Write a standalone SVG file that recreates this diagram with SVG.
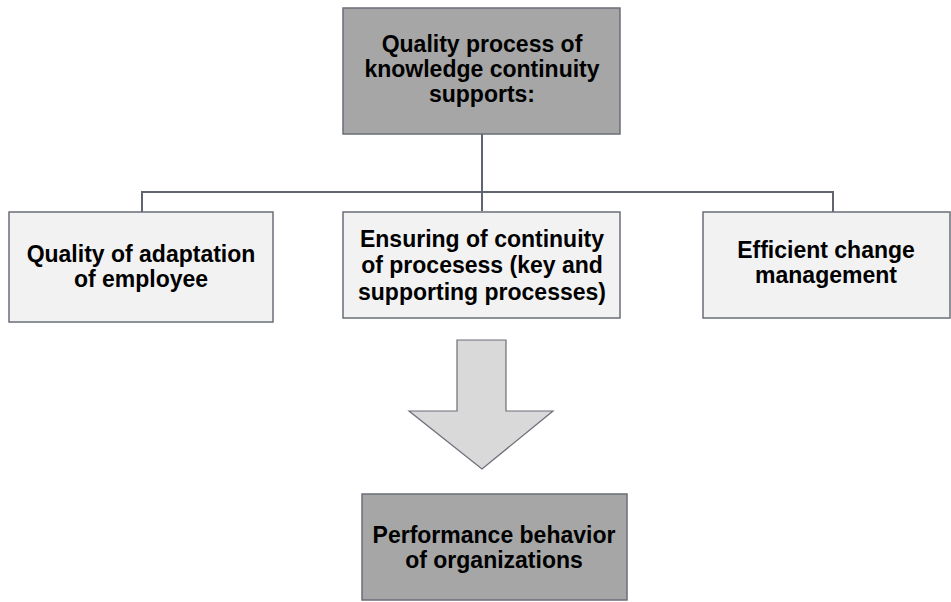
<svg xmlns="http://www.w3.org/2000/svg" width="951" height="602" viewBox="0 0 951 602">
  <style>
    .dark { fill: #a6a6a6; stroke: #6b6e78; stroke-width: 1.5; }
    .light { fill: #f2f2f2; stroke: #6b6e78; stroke-width: 1.5; }
    .arrow { fill: #d9d9d9; stroke: #6b6e78; stroke-width: 1.2; }
    .lbl { font-family: "Liberation Sans", Arial, sans-serif; font-weight: bold; font-size: 23px; fill: #000; text-anchor: middle; }
    .conn { fill: none; stroke: #5f6470; stroke-width: 2; }
  </style>
  <rect width="951" height="602" fill="#ffffff"/>

  <!-- connectors -->
  <g id="connectors">
    <path class="conn" d="M482 134 V211"/>
    <path class="conn" d="M142 212 V192 H833 V212"/>
  </g>

  <g id="top">
    <rect class="dark" x="343" y="8" width="277" height="126"/>
    <text class="lbl" x="482" y="52">Quality process of</text>
    <text class="lbl" x="482" y="77">knowledge continuity</text>
    <text class="lbl" x="482" y="102">supports:</text>
  </g>

  <g id="adaptation">
    <rect class="light" x="9" y="212" width="264" height="110"/>
    <text class="lbl" x="141" y="262">Quality of adaptation</text>
    <text class="lbl" x="141" y="287">of employee</text>
  </g>

  <g id="continuity">
    <rect class="light" x="343" y="212" width="277" height="106"/>
    <text class="lbl" x="482" y="247">Ensuring of continuity</text>
    <text class="lbl" x="482" y="273">of procesess (key and</text>
    <text class="lbl" x="482" y="300">supporting processes)</text>
  </g>

  <g id="change">
    <rect class="light" x="703" y="212" width="247" height="106"/>
    <text class="lbl" x="826" y="258">Efficient change</text>
    <text class="lbl" x="826" y="283">management</text>
  </g>

  <g id="arrow">
    <path class="arrow" d="M457 340 H506 V411 H553 L482 469 L409 411 H457 Z"/>
  </g>

  <g id="performance">
    <rect class="dark" x="362" y="494" width="265" height="106"/>
    <text class="lbl" x="494" y="543">Performance behavior</text>
    <text class="lbl" x="494" y="568">of organizations</text>
  </g>
</svg>
